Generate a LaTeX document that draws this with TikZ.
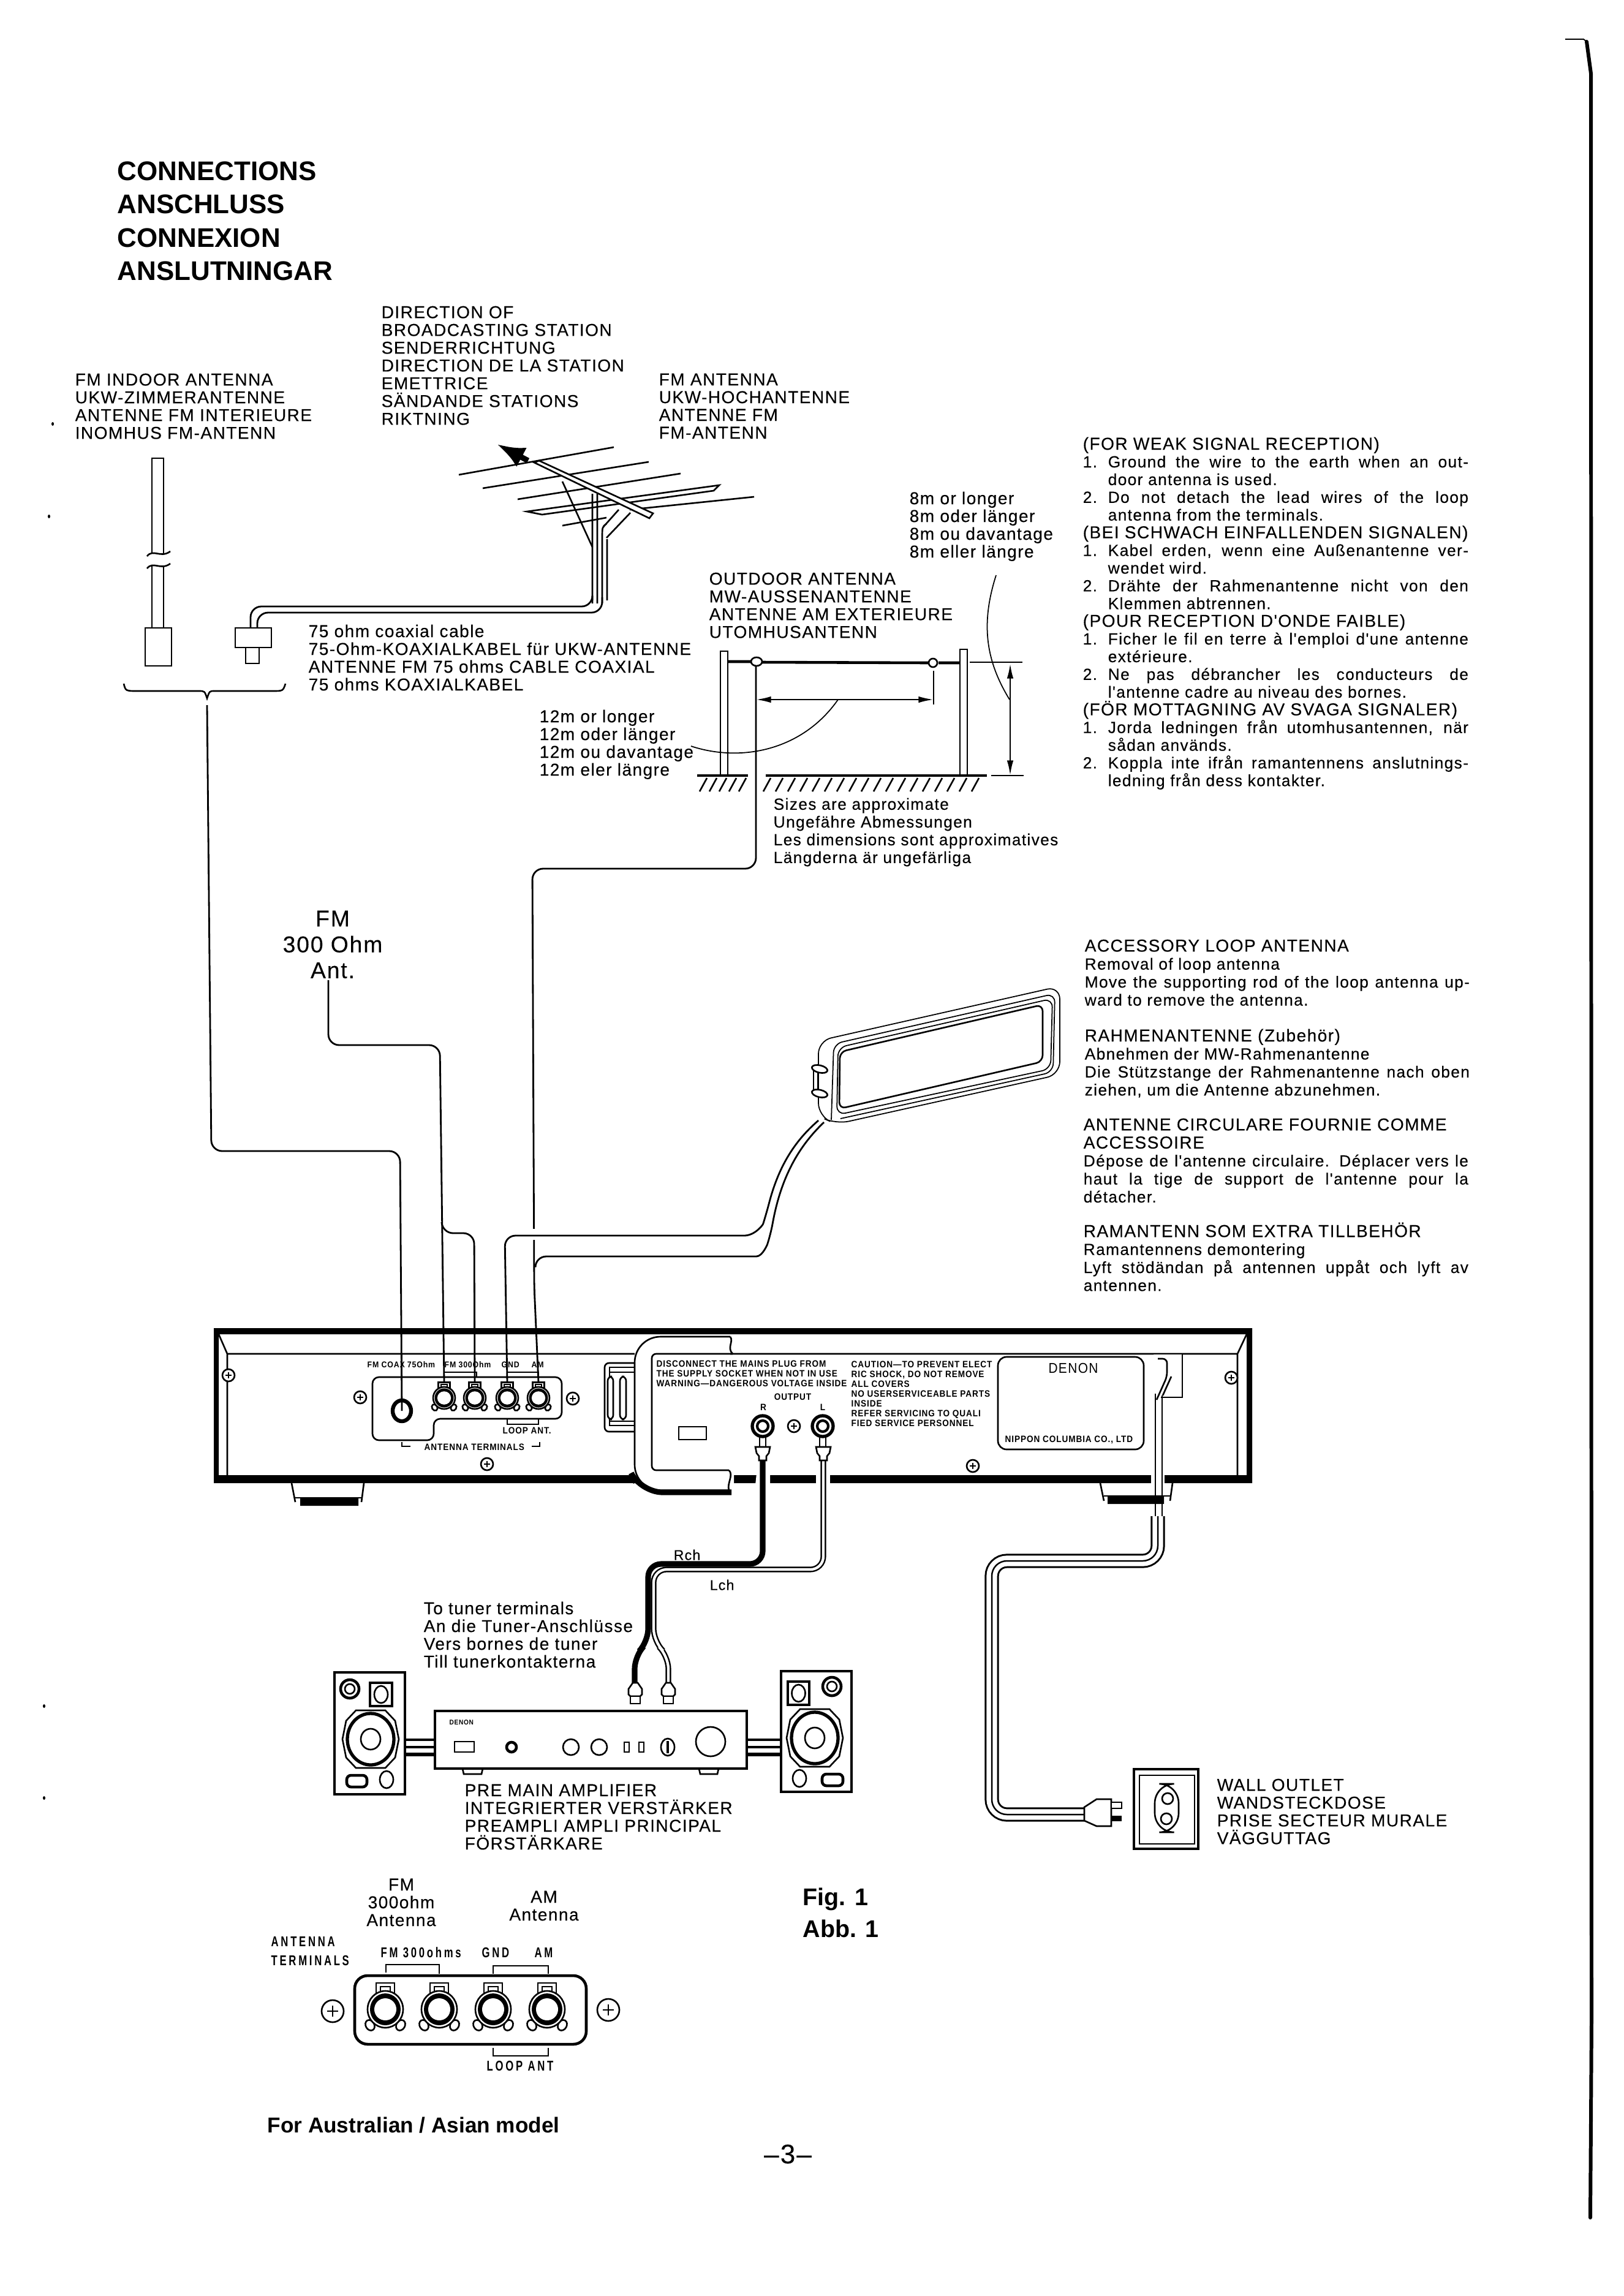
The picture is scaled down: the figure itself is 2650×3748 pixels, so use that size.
\documentclass[tikz,border=0pt]{standalone}
\usepackage{fontspec}
\setmainfont{Liberation Sans}
\newfontfamily\capfont[LetterSpace=5,FakeBold=0.2]{Liberation Sans}
\newfontfamily\panelfont[FakeStretch=0.9,LetterSpace=6]{Liberation Sans}
\newfontfamily\stencilfont[FakeStretch=0.72,LetterSpace=16]{Liberation Sans}
\usetikzlibrary{arrows.meta}
\lineskiplimit=-5pt
\newdimen\pxu \pxu=0.2845pt
\newcommand{\hd}[1]{{\fontsize{8}{8.22}\selectfont #1}}
\newcommand{\nl}[2]{\makebox[41\pxu][l]{#1}\makebox[588\pxu][s]{#2}}
\newcommand{\il}[1]{\makebox[41\pxu][l]{}#1}
\newcommand{\fl}[1]{\makebox[628\pxu][s]{#1}}
\tikzset{
  pen/.style={line width=0.75pt},
  wire/.style={line width=0.8pt,rounded corners=5pt},
  thinl/.style={line width=0.5pt},
  heavy/.style={line width=1.3pt},
  capt/.style={anchor=north west,align=left,inner sep=0pt,font=\capfont\fontsize{8}{8.25}\selectfont},
  body/.style={capt,font=\capfont\fontsize{7.5}{8.22}\selectfont},
  accs/.style={capt,font=\capfont\fontsize{7.5}{8.36}\selectfont},
  plab/.style={anchor=west,align=left,inner sep=0pt,font=\panelfont\bfseries\fontsize{4.3}{4.55}\selectfont},
  slab/.style={plab,font=\panelfont\bfseries\fontsize{3.9}{4.5}\selectfont},
  blab/.style={plab,font=\stencilfont\bfseries\fontsize{6.6}{8.8}\selectfont},
  screwhead/.pic={\draw[pen,fill=white] (0,0) circle (10);\draw[pen] (-5,0)--(5,0) (0,-5)--(0,5);},
  anttermA/.pic={
    \draw[pen,fill=white] (-15,-43) rectangle (15,-24);
    \draw[thinl] (-8,-37) rectangle (8,-29);
    \draw[pen,fill=white,rotate around={30:(-25,26)}] (-25,26) ellipse (7 and 9);
    \draw[pen,fill=white,rotate around={-30:(25,26)}] (25,26) ellipse (7 and 9);
    \draw[pen,fill=white] (0,0) ellipse (29 and 30);
    \fill (0,0) ellipse (25 and 26);
    \fill[white] (0,0) ellipse (18 and 18);},
  rcajack/.pic={\draw[line width=1.5pt,fill=white] (0,0) circle (17);\draw[line width=1.2pt] (0,0) circle (9);},
  rcaplug/.pic={\draw[pen,fill=white] (-12,1)--(12,1)--(10,11)--(6,16)--(6,23)--(-6,23)--(-6,16)--(-10,11)--cycle;},
  ampplug/.pic={\draw[pen,fill=white] (-4,0)--(4,0)--(11,10)--(11,19)--(8,22)--(-8,22)--(-11,19)--(-11,10)--cycle;\draw[pen,fill=white] (-8,22) rectangle (8,34);},
  woofer/.pic={
    \draw[pen] (-24,-47)--(24,-47)--(40,-30)--(46,0)--(40,30)--(24,47)--(-24,47)--(-40,30)--(-46,0)--(-40,-30)--cycle;
    \draw[line width=1.5pt] (0,0) ellipse (38 and 42);
    \draw[pen] (0,0) ellipse (16 and 17);},
}
\begin{document}
\begin{tikzpicture}[x=0.01cm,y=-0.01cm]
\useasboundingbox (0,0) rectangle (2650,3748);
% texts
\node[capt,font=\bfseries\fontsize{12.5}{15.5}\selectfont] (title) at (191,263) {CONNECTIONS\\ANSCHLUSS\\CONNEXION\\ANSLUTNINGAR};
\node[capt] (indoorlab) at (122,609) {FM INDOOR ANTENNA\\UKW-ZIMMERANTENNE\\ANTENNE FM INTERIEURE\\INOMHUS FM-ANTENN};
\node[capt] (dirlab) at (622,499) {DIRECTION OF\\BROADCASTING STATION\\SENDERRICHTUNG\\DIRECTION DE LA STATION\\EMETTRICE\\SÄNDANDE STATIONS\\RIKTNING};
\node[capt] (fmlab) at (1075,609) {FM ANTENNA\\UKW-HOCHANTENNE\\ANTENNE FM\\FM-ANTENN};
\node[capt] (coaxlab) at (503,1019) {75 ohm coaxial cable\\75-Ohm-KOAXIALKABEL für UKW-ANTENNE\\ANTENNE FM 75 ohms CABLE COAXIAL\\75 ohms KOAXIALKABEL};
\node[capt] (twelvelab) at (880,1158) {12m or longer\\12m oder länger\\12m ou davantage\\12m eler längre};
\node[capt] (outdoorlab) at (1157,934) {OUTDOOR ANTENNA\\MW-AUSSENANTENNE\\ANTENNE AM EXTERIEURE\\UTOMHUSANTENN};
\node[capt] (eightlab) at (1484,802) {8m or longer\\8m oder länger\\8m ou davantage\\8m eller längre};
\node[capt,font=\capfont\fontsize{7.5}{8.25}\selectfont] (sizelab) at (1262,1302) {Sizes are approximate\\Ungefähre Abmessungen\\Les dimensions sont approximatives\\Längderna är ungefärliga};
\node[body] (weaklab) at (1767,713) {\hd{(FOR WEAK SIGNAL RECEPTION)}\\
\nl{1.}{Ground the wire to the earth when an out-}\\
\il{door antenna is used.}\\
\nl{2.}{Do not detach the lead wires of the loop}\\
\il{antenna from the terminals.}\\
\hd{(BEI SCHWACH EINFALLENDEN SIGNALEN)}\\
\nl{1.}{Kabel erden, wenn eine Außenantenne ver-}\\
\il{wendet wird.}\\
\nl{2.}{Drähte der Rahmenantenne nicht von den}\\
\il{Klemmen abtrennen.}\\
\hd{(POUR RECEPTION D'ONDE FAIBLE)}\\
\nl{1.}{Ficher le fil en terre à l'emploi d'une antenne}\\
\il{extérieure.}\\
\nl{2.}{Ne pas débrancher les conducteurs de}\\
\il{l'antenne cadre au niveau des bornes.}\\
\hd{(FÖR MOTTAGNING AV SVAGA SIGNALER)}\\
\nl{1.}{Jorda ledningen från utomhusantennen, när}\\
\il{sådan används.}\\
\nl{2.}{Koppla inte ifrån ramantennens anslutnings-}\\
\il{ledning från dess kontakter.}};
\node[accs] (looplaba) at (1770,1533) {\hd{ACCESSORY LOOP ANTENNA}\\Removal of loop antenna\\\fl{Move the supporting rod of the loop antenna up-}\\ward to remove the antenna.};
\node[accs] (looplabb) at (1770,1679) {\hd{RAHMENANTENNE (Zubehör)}\\Abnehmen der MW-Rahmenantenne\\\fl{Die Stützstange der Rahmenantenne nach oben}\\ziehen, um die Antenne abzunehmen.};
\node[accs] (looplabc) at (1768,1825) {\hd{ANTENNE CIRCULARE FOURNIE COMME}\\\hd{ACCESSOIRE}\\\fl{Dépose de l'antenne circulaire. Déplacer vers le}\\\fl{haut la tige de support de l'antenne pour la}\\détacher.};
\node[accs] (looplabd) at (1768,1995) {\hd{RAMANTENN SOM EXTRA TILLBEHÖR}\\Ramantennens demontering\\\fl{Lyft stödändan på antennen uppåt och lyft av}\\antennen.};
\node[capt,anchor=north,align=center,font=\capfont\fontsize{10.6}{12}\selectfont] (ant300) at (543,1486) {FM\\300 Ohm\\Ant.};
\node[capt,font=\capfont\fontsize{6.6}{8}\selectfont] (rchlab) at (1099,2529) {Rch};
\node[capt,font=\capfont\fontsize{6.6}{8}\selectfont] (lchlab) at (1158,2578) {Lch};
\node[capt] (tunerlab) at (691,2614) {To tuner terminals\\An die Tuner-Anschlüsse\\Vers bornes de tuner\\Till tunerkontakterna};
\node[capt] (amplab) at (758,2912) {PRE MAIN AMPLIFIER\\INTEGRIERTER VERSTÄRKER\\PREAMPLI AMPLI PRINCIPAL\\FÖRSTÄRKARE};
\node[capt] (walllab) at (1986,2903) {WALL OUTLET\\WANDSTECKDOSE\\PRISE SECTEUR MURALE\\VÄGGUTTAG};
\node[capt,font=\bfseries\fontsize{11.2}{14.8}\selectfont] (figlab) at (1310,3081) {Fig. 1\\Abb. 1};
\node[capt,anchor=north,align=center] (fmantlab) at (655,3066) {FM\\300ohm\\Antenna};
\node[capt,anchor=north,align=center] (amantlab) at (888,3086) {AM\\Antenna};
\node[capt,font=\bfseries\fontsize{10}{11}\selectfont] (modellab) at (436,3455) {For Australian / Asian model};
\node[capt,anchor=north,font=\capfont\fontsize{12.5}{14}\selectfont] (pagelab) at (1286,3500) {–3–};
% right margin of the page, specks
\draw[line width=0.5pt] (2555,64)--(2585,64)--(2590,68);
\draw[line width=1.7pt,line cap=round] (2590,68)--(2597,120)--(2598,3300)--(2596,3620);
\foreach \x/\y in {86/692,80/843,72/2785,72/2935}{\fill (\x,\y) ellipse (2 and 3);}
% indoor antenna
\draw[pen] (248,903)--(248,748)--(267,748)--(267,903) (248,924)--(248,1025) (267,924)--(267,1025);
\draw[pen] (240,908) .. controls (250,895) and (262,912) .. (278,900) (240,928) .. controls (250,915) and (262,932) .. (278,920);
\draw[pen] (237,1025) rectangle (280,1087);
\draw[pen] (384,1025) rectangle (443,1057) (401,1057) rectangle (423,1083);
\draw[pen] (202,1116) .. controls (205,1128) .. (225,1128) -- (325,1128) .. controls (334,1128) .. (338,1140) .. controls (342,1128) .. (350,1128) -- (445,1128) .. controls (462,1128) .. (466,1116);
\coordinate (braceend) at (338,1151);
% fm antenna
\draw[line width=2.6pt,-{Latex[length=13pt,width=10pt]}] (862,752)--(811,725);
\foreach \xa/\ya/\xb/\yb in {749/775/1002/730,788/797/1059/754,845/815/1111/773,1028/832/1231/811,918/858/990/845}{
  \draw[pen] (\xa,\ya)--(\xb,\yb);}
\draw[pen] (860,835)--(1174,792)--(1165,801)--(885,840)--cycle;
\draw[pen] (918,786)--(967,893) (1029,837)--(990,878) (1010,832)--(985,860);
\draw[pen,fill=white] (872,755)--(880,752)--(1066,838)--(1060,846)--cycle;
\draw[pen] (967,806)--(967,985) (975,806)--(975,985) (990,855) .. controls (983,860) .. (983,880) -- (983,985) (991,880)--(991,980);
\draw[wire] (967,980)--(967,990)--(409,990)--(409,1025);
\draw[wire] (983,975)--(983,1000)--(420,1000)--(420,1025);
% outdoor antenna
\draw[pen] (1176,1265)--(1176,1063)--(1188,1063)--(1188,1265) (1567,1265)--(1567,1060)--(1579,1060)--(1579,1265);
\draw[heavy] (1188,1080)--(1226,1080) (1244,1081)--(1515,1082) (1532,1082)--(1567,1082);
\draw[pen,fill=white] (1235,1080) ellipse (9 and 7) (1523,1082) ellipse (7 and 7);
\coordinate (insa) at (1234,1087);
\draw[pen] (1524,1095)--(1524,1150);
\draw[pen,{Latex[length=7pt,width=3pt]}-{Latex[length=7pt,width=3pt]}] (1234,1142)--(1524,1142);
\draw[pen,{Latex[length=7pt,width=3pt]}-{Latex[length=7pt,width=3pt]}] (1649,1083)--(1649,1266);
\draw[pen] (1583,1081)--(1669,1081);
\draw[heavy] (1138,1266)--(1221,1266) (1250,1266)--(1611,1266);
\draw[pen] (1618,1266)--(1671,1266);
\foreach \x in {1154,1170,...,1218}{\draw[pen] (\x,1270)--(\x-12,1292);}
\foreach \x in {1258,1278,...,1610}{\draw[pen] (\x,1270)--(\x-12,1292);}
\draw[thinl] (1128,1218) .. controls (1210,1245) and (1310,1225) .. (1368,1142);
\draw[thinl] (1626,939) .. controls (1600,1020) and (1610,1080) .. (1648,1142);
% loop antenna
\draw[thinl,rounded corners=6pt] (1336,1822)--(1336,1699)--(1730,1610)--(1730,1754)--(1365,1835)--cycle;
\draw[thinl,rounded corners=4pt] (1357,1828)--(1361,1704)--(1722,1622)--(1719,1750)--(1372,1826);
\draw[thinl,rounded corners=4pt] (1366,1820)--(1368,1710)--(1718,1630)--(1715,1745)--cycle;
\draw[pen,rounded corners=3pt] (1370,1810)--(1371,1717)--(1702,1640)--(1702,1733)--cycle;
\draw[pen,fill=white] (1328,1745) rectangle (1335,1785);
\draw[pen,fill=white,rotate around={-13:(1338,1745)}] (1338,1745) ellipse (13 and 6);
\draw[pen,fill=white,rotate around={-13:(1338,1785)}] (1338,1785) ellipse (13 and 6);
% tuner
\fill (349,2168) rectangle (2044,2178) (349,2168) rectangle (357,2421) (2035,2168) rectangle (2044,2421) (349,2408) rectangle (2044,2421);
\draw[pen] (357,2178)--(371,2210)--(2020,2210)--(2035,2178) (371,2210)--(371,2408) (2020,2210)--(2020,2408);
\draw[pen] (476,2421)--(482,2452) (594,2421)--(590,2452) (1796,2421)--(1802,2450) (1914,2421)--(1910,2450);
\fill (490,2444) rectangle (585,2458) (1808,2442) rectangle (1900,2455);
\draw[pen] (482,2445)--(590,2445) (1802,2442)--(1910,2442);
\draw[pen,rounded corners=3pt] (708,2351)--(608,2351)--(608,2248)--(917,2248)--(917,2316)--(708,2316)--cycle;
\foreach \x/\y in {373/2245,2010/2249,588/2281,935/2283,795/2390,1588/2393,1296/2328}{\pic at (\x,\y) {screwhead};}
\foreach \x/\n in {725/terma,775/termb,828/termc,879/termd}{
  \pic[xscale=.62,yscale=.6] at (\x,2282) {anttermA};
  \coordinate (\n) at (\x,2257);}
\draw[line width=1.8pt,fill=white] (656,2303) ellipse (15 and 17);
\coordinate (jackcoax) at (656,2303);
\node[slab] (coaxtxt) at (599,2228) {FM COAX 75Ohm};
\node[slab] (fmtxt) at (725,2228) {FM 300Ohm};
\node[slab] (gndtxt) at (818,2228) {GND};
\node[slab] (amtxt) at (867,2228) {AM};
\node[plab] (looptxt) at (820,2335) {LOOP ANT.};
\node[plab] (termtxt) at (692,2362) {ANTENNA TERMINALS};
\draw[thinl] (725,2248)--(725,2240)--(778,2240)--(778,2248) (828,2248)--(828,2240)--(879,2240)--(879,2248);
\draw[thinl] (828,2316)--(828,2325)--(879,2325)--(879,2316);
\draw[pen] (656,2354)--(656,2361)--(670,2361) (881,2354)--(881,2361)--(868,2361);
% slot beside the label panel
\draw[pen,rounded corners=2pt] (1037,2225)--(987,2225)--(987,2337)--(1037,2337);
\draw[pen] (1037,2232)--(995,2232)--(995,2327)--(1037,2327) (995,2240)--(1037,2240) (995,2320)--(1037,2320);
\draw[pen,fill=white,rounded corners=2pt] (992,2247) rectangle (1001,2317) (1012,2247) rectangle (1022,2317);
% label panel cut into the tuner
\fill[white] (1192,2181)--(1060,2181)--(1036,2203)--(1036,2413)--(1060,2433)--(1198,2433)--(1198,2400)--(1192,2392)--(1065,2392)--(1065,2212)--(1192,2212)--cycle;
\fill[white] (1235,2405)--(1257,2405)--(1257,2424)--(1233,2424)--cycle;
\fill[white] (1332,2405) rectangle (1355,2424);
\draw[pen,rounded corners=12pt] (1192,2182)--(1036,2182)--(1036,2433)--(1190,2433);
\draw[line width=2.6pt,rounded corners=10pt] (1194,2436)--(1046,2436)--(1038,2420);
\draw[pen,rounded corners=2pt] (1196,2210)--(1064,2210)--(1064,2400)--(1190,2400);
\draw[pen] (1192,2182) .. controls (1198,2190) and (1186,2200) .. (1196,2210) (1190,2400) .. controls (1198,2408) and (1186,2422) .. (1190,2433);
\node[plab] (warntxt) at (1071,2242) {DISCONNECT THE MAINS PLUG FROM\\THE SUPPLY SOCKET WHEN NOT IN USE\\WARNING—DANGEROUS VOLTAGE INSIDE};
\node[plab,anchor=north west] (cautxt) at (1389,2221) {CAUTION—TO PREVENT ELECT\\RIC SHOCK, DO NOT REMOVE\\ALL COVERS\\NO USERSERVICEABLE PARTS\\INSIDE\\REFER SERVICING TO QUALI\\FIED SERVICE PERSONNEL};
\node[plab,anchor=center] (outtxt) at (1294,2280) {OUTPUT};
\node[plab,anchor=center] (rtxt) at (1246,2297) {R};
\node[plab,anchor=center] (ltxt) at (1343,2297) {L};
\draw[pen] (1108,2329) rectangle (1153,2350);
\pic at (1245,2328) {rcajack};
\pic at (1343,2328) {rcajack};
\draw[pen] (1240,2345)--(1240,2362) (1250,2345)--(1250,2362) (1338,2345)--(1338,2362) (1348,2345)--(1348,2362);
\draw[pen,rounded corners=4pt] (1629,2215) rectangle (1867,2366);
\node[anchor=center,inner sep=0pt,font=\panelfont\fontsize{6.6}{7}\selectfont] (denontxt) at (1752,2233) {DENON};
\node[plab] (nipptxt) at (1640,2350) {NIPPON COLUMBIA CO., LTD};
% power cord at the tuner
\draw[pen,fill=white] (1883,2210)--(1930,2210)--(1930,2281)--(1895,2281);
\draw[pen,rounded corners=2pt] (1890,2218)--(1905,2218)--(1905,2247)--(1888,2285);
\draw[pen] (1912,2247)--(1898,2278);
% cables
\draw[wire] (braceend)--(345,1879)--(653,1879)--(jackcoax);
\coordinate (antend) at (536,1600);
\draw[wire] (antend)--(536,1706)--(718,1706)--(terma);
\draw[wire] (721,1995)--(722,2013)--(774,2013)--(termb);
\draw[wire] (insa)--(1234,1418)--(869,1418)--(872,2100)--(termd);
\draw[white,line width=1.5pt] (872,2006)--(872,2024);
\coordinate (cordtop) at (1890,2475);
\draw[wire] (termc)--(824,2017)--(1197,2017) .. controls (1232,2017) and (1245,2000) .. (1251,1981) .. controls (1272,1900) and (1300,1860) .. (1336,1829);
\draw[wire] (874,2066)--(874,2051)--(1217,2051) .. controls (1245,2051) and (1253,2030) .. (1258,2015) .. controls (1275,1920) and (1305,1870) .. (1345,1832);
\draw[white,line width=6pt] (1890,2402)--(1890,2428);
\draw[pen] (1886,2275)--(1886,2475) (1897,2278)--(1897,2475);
\foreach \w/\c in {6.6pt/black,4.9pt/white,0.7pt/black}{
  \draw[\c,line width=\w,rounded corners=7pt,line cap=butt] (cordtop)--(1890,2548)--(1619,2548)--(1619,2962)--(1770,2962);}
\draw[pen,fill=white] (1770,2950)--(1790,2937)--(1814,2937)--(1814,2981)--(1790,2981)--(1770,2972)--cycle;
\draw[pen,fill=white] (1814,2942) rectangle (1831,2952);
\fill (1814,2964) rectangle (1831,2973);
\draw[heavy] (1851,2888) rectangle (1956,3018);
\draw[pen] (1860,2898) rectangle (1950,3010);
\draw[pen,rounded corners=9pt] (1885,2912) rectangle (1924,2991);
\draw[pen] (1906,2936) circle (9) (1904,2969) circle (9);
\coordinate (jackr) at (1245,2383);
\coordinate (jackl) at (1344,2383);
\draw[line width=2.6pt,rounded corners=6pt] (jackr)--(1245,2553)--(1058,2553)--(1058,2680)--(1036,2703)--(1036,2747);
\foreach \w/\c in {2.6pt/black,1.2pt/white}{
  \draw[\c,line width=\w,rounded corners=6pt] (jackl)--(1344,2562)--(1067,2562)--(1067,2680)--(1091,2703)--(1091,2747);}
\pic at (1245,2361) {rcaplug};
\pic at (1344,2361) {rcaplug};
\pic at (1037,2747) {ampplug};
\pic at (1091,2747) {ampplug};
% speakers and amplifier
\foreach \xa/\xb/\ya/\yb/\xt/\yt/\xma/\xmb/\xw/\xpa/\xpb/\xc in {546/661/2730/2929/571/2757/604/640/605/566/599/631,1275/1390/2728/2925/1358/2753/1286/1321/1330/1342/1376/1305}{
  \draw[heavy] (\xa,\ya) rectangle (\xb,\yb);
  \draw[heavy] (\xt,\yt) circle (15);
  \draw[pen] (\xt,\yt) circle (8);
  \draw[heavy] (\xma,\ya+17) rectangle (\xmb,\ya+55);
  \draw[pen] (\xma/2+\xmb/2,\ya+36) ellipse (11 and 14);
  \pic at (\xw,\ya+109) {woofer};
  \draw[heavy,rounded corners=2pt] (\xpa,\ya+168) rectangle (\xpb,\ya+187);
  \draw[pen] (\xc,\ya+175) ellipse (11 and 14);}
\draw[heavy] (661,2840)--(710,2840) (1219,2840)--(1275,2840) (661,2852)--(710,2852) (1219,2852)--(1275,2852);
\draw[line width=1.8pt] (661,2864)--(710,2864) (1219,2864)--(1275,2864);
\draw[heavy,fill=white] (710,2793) rectangle (1219,2887);
\draw[pen] (755,2887)--(757,2896)--(786,2896)--(788,2887) (1141,2887)--(1143,2896)--(1171,2896)--(1173,2887);
\node[anchor=west,inner sep=0pt,font=\panelfont\bfseries\fontsize{3.2}{4}\selectfont] (amptxt) at (733,2812) {DENON};
\draw[pen] (742,2843) rectangle (774,2860);
\draw[heavy] (835,2852) circle (8);
\foreach \x/\y/\r in {932/2852/13,978/2852/13,1160/2843/24}{\draw[pen] (\x,\y) circle (\r);}
\draw[pen] (1019,2844) rectangle (1027,2860) (1043,2844) rectangle (1051,2860);
\draw[pen] (1090,2852) ellipse (11 and 14);
\draw[heavy] (1090,2842)--(1090,2862);
% terminals for Australian and Asian model
\draw[heavy,rounded corners=6pt] (579,3225) rectangle (957,3337);
\foreach \x in {629,717,805,893}{\pic at (\x,3280) {anttermA};}
\pic[scale=1.8] at (543,3283) {screwhead};
\pic[scale=1.8] at (993,3281) {screwhead};
\draw[pen] (630,3220)--(630,3207)--(717,3207)--(717,3222) (805,3222)--(805,3209)--(895,3209)--(895,3222);
\draw[pen] (805,3343)--(805,3356)--(895,3356)--(895,3343);
\node[blab] (terminaltxt) at (442,3185) {ANTENNA\\TERMINALS};
\node[blab] (fmbtxt) at (621,3187) {FM 300ohms};
\node[blab] (gndbtxt) at (786,3187) {GND};
\node[blab] (ambtxt) at (872,3187) {AM};
\node[blab] (loopbtxt) at (794,3372) {LOOP ANT};
\end{tikzpicture}
\end{document}
